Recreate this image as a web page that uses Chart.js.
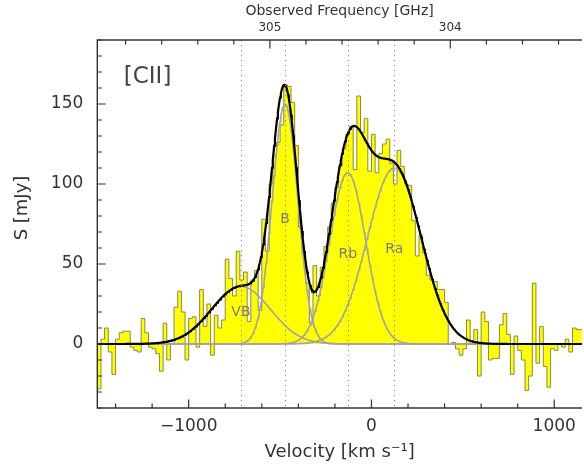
<!DOCTYPE html>
<html>
<head>
<meta charset="utf-8">
<script src="https://cdn.jsdelivr.net/npm/chart.js@4"></script>
<style>
  html, body { margin: 0; padding: 0; background: #fff; overflow: hidden; }
  #wrap { width: 584px; height: 464px; position: relative; }
</style>
</head>
<body>
<div id="wrap"><canvas id="ciiChart"></canvas></div>
<script>
// spectrum channels (20 km/s wide, first channel starts at -1500 km/s)
const velStart = -1500;
const chanWidth = 20;
const fluxDensity = [
  -28, 3, 10, -5, -19, 3, 7, 8, 8, -2,
  -4, -5, 16, 7, -2, -3, -6, -17, 13, -10,
  0, 23, 33, 20, -10, 16, 17, -2, 34, 11,
  25, -7, 18, 10, 15, 53, 41, 30, 58, 40,
  45, 14, 40, 46, 21, 78, 58, 100, 118, 126,
  137, 162, 161, 151, 124, 73, 56, 38, 13, 49,
  30, 48, 61, 73, 88, 98, 111, 122, 131, 136,
  109, 155, 132, 141, 108, 131, 107, 119, 125, 128,
  113, 100, 121, 111, 100, 99, 77, 55, 68, 57,
  43, 40, 39, 34, 34, 26, 0, 1, -3, -7,
  -3, 15, 0, 9, -20, 20, 14, -10, -9, -9,
  12, 19, 6, -19, 5, -4, -10, -29, -20, 38,
  -12, 11, -14, -27, -3, -4, 0, -2, 3, -5,
  10, 9, 9
];

// gaussian components of the fit
const compNames = ['VB', 'B', 'Rb', 'Ra'];
const compCenters = [-714, -473, -130, 125];
const compAmps = [36, 150, 107, 110];
const compSigmas = [160, 70, 98, 147];

// axes
const velMin = -1500, velMax = 1151;
const fluxMin = -40, fluxMax = 190;
const velMajorTicks = [-1000, 0, 1000];
const fluxMajorTicks = [0, 50, 100, 150];
const freqMajorTicks = [305, 304];
const nuZero = 304.437;     // GHz at v = 0
const kmsPerGHz = 987;

const font = "'DejaVu Sans', sans-serif";
const ink = '#333';

function freqAt(v) { return nuZero - v / kmsPerGHz; }
function gauss(v, i) {
  const d = (v - compCenters[i]) / compSigmas[i];
  return compAmps[i] * Math.exp(-0.5 * d * d);
}

const specPoints = fluxDensity.map((f, i) => ({ x: velStart + chanWidth * i, y: f }));
specPoints.push({ x: velStart + chanWidth * fluxDensity.length, y: fluxDensity[fluxDensity.length - 1] });

const grid = [];
for (let v = velMin; v <= velMax + 4; v += 4) grid.push(v);
const compCurves = compNames.map((n, i) => grid.map(v => ({ x: v, y: gauss(v, i) })));
const totalCurve = grid.map(v => ({ x: v, y: compNames.reduce((s, n, i) => s + gauss(v, i), 0) }));

const decor = {
  id: 'decor',
  afterDatasetsDraw(chart) {
    const { ctx, chartArea: a, scales } = chart;
    const sx = scales.x, sy = scales.y, st = scales.xTop;
    ctx.save();

    // dotted lines at component centres
    ctx.strokeStyle = '#8a8a8a';
    ctx.lineWidth = 1;
    ctx.setLineDash([1.2, 3.8]);
    compCenters.forEach(v => {
      const x = Math.round(sx.getPixelForValue(v)) + 0.5;
      ctx.beginPath(); ctx.moveTo(x, a.top); ctx.lineTo(x, a.bottom); ctx.stroke();
    });
    ctx.setLineDash([]);

    // frame (right side is out of the picture)
    ctx.strokeStyle = ink;
    ctx.lineWidth = 1.4;
    ctx.beginPath();
    ctx.moveTo(a.right, a.top); ctx.lineTo(a.left, a.top);
    ctx.lineTo(a.left, a.bottom); ctx.lineTo(a.right, a.bottom);
    ctx.stroke();

    // inward ticks
    ctx.lineWidth = 1.2;
    ctx.beginPath();
    for (let v = -1400; v <= velMax; v += 200) {
      const x = sx.getPixelForValue(v);
      const len = velMajorTicks.includes(v) ? 8.5 : 4.5;
      ctx.moveTo(x, a.bottom); ctx.lineTo(x, a.bottom - len);
    }
    for (let k = 0; k <= 15; k++) {
      const f = 303.2 + 0.2 * k;
      const x = st.getPixelForValue(f);
      if (x < a.left || x > a.right) continue;
      const len = freqMajorTicks.some(t => Math.abs(t - f) < 1e-6) ? 8.5 : 4.5;
      ctx.moveTo(x, a.top); ctx.lineTo(x, a.top + len);
    }
    for (let s = fluxMin; s <= fluxMax; s += 10) {
      const y = sy.getPixelForValue(s);
      const len = fluxMajorTicks.includes(s) ? 8.5 : 4.5;
      ctx.moveTo(a.left, y); ctx.lineTo(a.left + len, y);
    }
    ctx.stroke();

    // texts inside the plot
    ctx.textAlign = 'center';
    ctx.textBaseline = 'middle';
    ctx.fillStyle = '#444';
    ctx.font = "23px " + font;
    ctx.fillText('[CII]', sx.getPixelForValue(-1225), sy.getPixelForValue(167));
    ctx.fillStyle = '#7a7a7a';
    ctx.font = "14px " + font;
    const labelAt = [[-714, 20], [-473, 78], [-130, 56], [125, 59]];
    compNames.forEach((n, i) => {
      ctx.fillText(n, sx.getPixelForValue(labelAt[i][0]), sy.getPixelForValue(labelAt[i][1]));
    });

    // y title
    ctx.fillStyle = ink;
    ctx.font = "18px " + font;
    ctx.translate(22.5, 208);
    ctx.rotate(-Math.PI / 2);
    ctx.fillText('S [mJy]', 0, 0);
    ctx.restore();
  }
};

new Chart(document.getElementById('ciiChart'), {
  type: 'line',
  data: {
    datasets: [
      { label: 'fit', data: totalCurve, borderColor: '#000', borderWidth: 2.2, pointRadius: 0, fill: false, order: 0 },
      ...compCurves.map((c, i) => ({
        label: compNames[i], data: c, borderColor: '#a3a3a3', borderWidth: 1.6, pointRadius: 0, fill: false, order: 1
      })),
      { label: 'spectrum', data: specPoints, stepped: true, borderColor: '#8a8a40', borderWidth: 1,
        backgroundColor: '#ffff00', fill: 'origin', pointRadius: 0, order: 2 }
    ]
  },
  options: {
    responsive: true,
    maintainAspectRatio: false,
    animation: false,
    events: [],
    layout: { padding: 0 },
    plugins: { legend: { display: false }, tooltip: { enabled: false } },
    scales: {
      x: {
        type: 'linear', position: 'bottom', min: velMin, max: velMax,
        grid: { display: false, drawTicks: false }, border: { display: false },
        afterBuildTicks: s => { s.ticks = velMajorTicks.map(value => ({ value })); },
        afterFit: s => { s.height = 56; },
        ticks: { padding: 8, color: ink, font: { family: font, size: 17 }, maxRotation: 0, autoSkip: false,
          callback: v => v < 0 ? '\u2212' + Math.abs(v) : String(v) },
        title: { display: true, text: 'Velocity [km s\u207B\u00B9]', color: ink,
          font: { family: font, size: 18 }, padding: { top: 0, bottom: 1 } }
      },
      xTop: {
        type: 'linear', position: 'top', reverse: true, min: freqAt(velMax), max: freqAt(velMin),
        grid: { display: false, drawTicks: false }, border: { display: false },
        afterBuildTicks: s => { s.ticks = freqMajorTicks.map(value => ({ value })); },
        afterFit: s => { s.height = 40; },
        ticks: { padding: 5, color: ink, font: { family: font, size: 12 }, maxRotation: 0, autoSkip: false,
          callback: v => String(v) },
        title: { display: true, text: 'Observed Frequency [GHz]', color: ink,
          font: { family: font, size: 14 }, padding: { top: 3, bottom: 0 } }
      },
      y: {
        type: 'linear', min: fluxMin, max: fluxMax,
        grid: { display: false, drawTicks: false }, border: { display: false },
        afterBuildTicks: s => { s.ticks = fluxMajorTicks.map(value => ({ value })); },
        afterFit: s => { s.width = 97.3; },
        ticks: { padding: 14, color: ink, font: { family: font, size: 17 } }
      }
    }
  },
  plugins: [decor]
});
</script>
</body>
</html>
